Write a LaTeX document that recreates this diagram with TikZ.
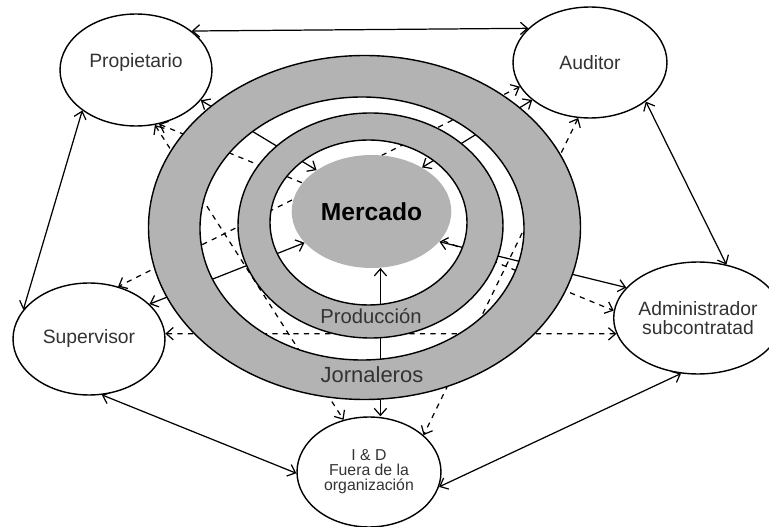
\documentclass[tikz,border=0pt]{standalone}
\usepackage{fontspec}
\setmainfont{Liberation Sans}
\usetikzlibrary{shapes.geometric,arrows.meta}
\definecolor{ringgray}{HTML}{B3B3B3}
\definecolor{labelgray}{HTML}{333333}
\pgfdeclarelayer{lines}
\pgfdeclarelayer{rings}
\pgfsetlayers{lines,rings,main}

\begin{document}
\begin{tikzpicture}[x=0.02cm, y=-0.02cm,
    actor/.style={ellipse, draw, line width=0.8pt, fill=white, text=labelgray, inner sep=0pt,
        minimum width=3.04cm, minimum height=2.24cm, align=center, font=\fontsize{11}{11}\selectfont},
    ringtext/.style={text=labelgray},
    link/.style={<->, line width=0.7pt},
    >={Straight Barb[length=4pt,width=7pt]}]
    \useasboundingbox (0,0) rectangle (769,527);

    \node [actor, text depth=11pt] (prop) at (136,70) {Propietario};
    \node [actor, minimum width=3.08cm, minimum height=2.22cm] (aud) at (590,62.5) {Auditor};
    \node [actor] (sup) at (89,339) {Supervisor};
    \node [actor, minimum width=2.88cm] (adm) at (698,318) {Administrador\\subcontratad};
    \node [actor, minimum width=2.88cm, minimum height=2.2cm, font=\fontsize{9}{8.5}\selectfont] (iyd) at (369,472) {I \& D\\Fuera de la\\organización};
    \node [ellipse, fill=ringgray, minimum width=3.06cm, minimum height=2.26cm, font=\bfseries\fontsize{14}{14}\selectfont] (merc) at (371.5,211.5) {Mercado};
    \node [ringtext, font=\fontsize{11.5}{11.5}\selectfont] (prod) at (371,316) {Producción};
    \node [ringtext, font=\fontsize{12.5}{12.5}\selectfont] (jorn) at (372,375) {Jornaleros};

    \begin{pgfonlayer}{rings}
        \fill [ringgray, even odd rule] (364.5,227.5) ellipse [x radius=216, y radius=172]
            (362,228.5) ellipse [x radius=162, y radius=131.5];
        \draw [line width=0.8pt] (364.5,227.5) ellipse [x radius=216, y radius=172];
        \draw [line width=0.8pt] (362,228.5) ellipse [x radius=162, y radius=131.5];
        \fill [ringgray, even odd rule] (370.5,225.5) ellipse [x radius=132.5, y radius=112.5]
            (368.5,222.5) ellipse [x radius=98.5, y radius=82.5];
        \draw [line width=0.8pt] (370.5,225.5) ellipse [x radius=132.5, y radius=112.5];
        \draw [line width=0.8pt] (368.5,222.5) ellipse [x radius=98.5, y radius=82.5];
    \end{pgfonlayer}

    \begin{pgfonlayer}{lines}
        \draw [link] (prop.35) -- (aud.151);
        \draw [link] (prop.217) -- (sup.156);
        \draw [link] (aud.-35) -- (adm.62);
        \draw [link] (sup.-77) -- (iyd.181);
        \draw [link] (adm.253) -- (iyd.-12);

        \draw [link] (prop.-25) -- (merc.143);
        \draw [link] (aud.213) -- (merc.41);
        \draw [link] (sup.30) -- (merc.205);
        \draw [link] (adm.157) -- (merc.-24);
        \draw [link] (merc.-81) -- (merc.-81 |- iyd.north);

        \draw [link, dashed] (prop.-71) -- (iyd.116);
        \draw [link, dashed] (prop.-67) -- (adm.175);
        \draw [link, dashed] (aud.199) -- (sup.61);
        \draw [link, dashed] (aud.258) -- (iyd.34);
        \draw [link, dashed] (sup.4.5) -- (adm.191);
    \end{pgfonlayer}
\end{tikzpicture}
\end{document}
